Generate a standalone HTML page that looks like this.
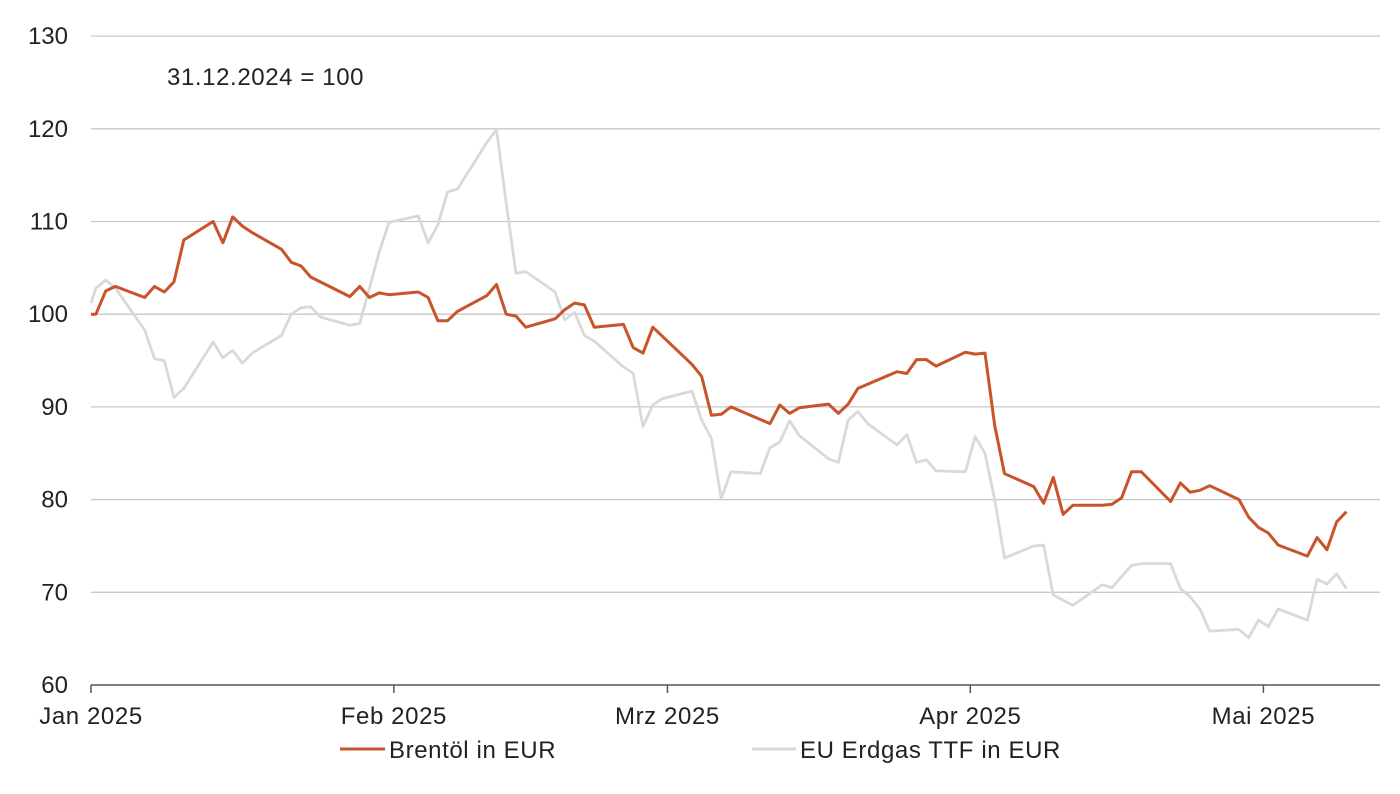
<!DOCTYPE html>
<html><head><meta charset="utf-8"><style>
body{margin:0;background:#fff;font-family:"Liberation Sans",Arial,sans-serif}
svg text{font-family:"Liberation Sans",Arial,sans-serif;fill:#222}
.lab{letter-spacing:0.6px}
</style></head><body>
<svg id="chart" width="1400" height="789" viewBox="0 0 1400 789" xmlns="http://www.w3.org/2000/svg">
<g id="grid"></g>
<g id="yaxis"></g>
<g id="xaxis"></g>
<g id="series"></g>
<text class="lab" x="167" y="85" font-size="24">31.12.2024 = 100</text>
<g>
<g><line x1="340" y1="749" x2="385" y2="749" stroke="#c9532a" stroke-width="3"/><text class="lab" x="389" y="758" font-size="24">Brentöl in EUR</text></g>
<g><line x1="752" y1="749" x2="796" y2="749" stroke="#d9d9d9" stroke-width="3"/><text class="lab" x="800" y="758" font-size="24">EU Erdgas TTF in EUR</text></g>
</g>
</svg>
<script>
const yTicks=[60,70,80,90,100,110,120,130];
const monthLabels=["Jan 2025","Feb 2025","Mrz 2025","Apr 2025","Mai 2025"];
const monthDays=[0,31,59,90,120];
const brentDays=[0,0.5,1.5,2.5,5.5,6.5,7.5,8.5,9.5,12.5,13.5,14.5,15.5,16.5,19.5,20.5,21.5,22.5,26.5,27.5,28.5,29.5,30.5,33.5,34.5,35.5,36.5,37.5,40.5,41.5,42.5,43.5,44.5,47.5,48.5,49.5,50.5,51.5,54.5,55.5,56.5,57.5,61.5,62.5,63.5,64.5,65.5,69.5,70.5,71.5,72.5,75.5,76.5,77.5,78.5,82.5,83.5,84.5,85.5,86.5,89.5,90.5,91.5,92.5,93.5,96.5,97.5,98.5,99.5,100.5,103.5,104.5,105.5,106.5,107.5,110.5,111.5,112.5,113.5,114.5,117.5,118.5,119.5,120.5,121.5,124.5,125.5,126.5,127.5,128.5];
const brentValues=[100,100,102.5,103,101.8,103,102.4,103.5,108,110,107.7,110.5,109.5,108.8,107,105.6,105.2,104,101.9,103,101.8,102.3,102.1,102.4,101.8,99.3,99.3,100.3,102,103.2,100,99.8,98.6,99.5,100.5,101.2,101,98.6,98.9,96.4,95.8,98.6,94.6,93.3,89.1,89.2,90,88.2,90.2,89.3,89.9,90.3,89.3,90.3,92,93.8,93.6,95.1,95.1,94.4,95.9,95.7,95.8,88,82.8,81.4,79.6,82.4,78.4,79.4,79.4,79.5,80.2,83,83,79.8,81.8,80.8,81,81.5,80,78.1,77,76.4,75.1,73.9,75.9,74.6,77.6,78.7];
const gasDays=[0,0.5,1.5,2.5,5.5,6.5,7.5,8.5,9.5,12.5,13.5,14.5,15.5,16.5,19.5,20.5,21.5,22.5,23.5,26.5,27.5,28.5,29.5,30.5,33.5,34.5,35.5,36.5,37.5,40.5,41.5,42.5,43.5,44.5,47.5,48.5,49.5,50.5,51.5,54.5,55.5,56.5,57.5,58.5,61.5,62.5,63.5,64.5,65.5,68.5,69.5,70.5,71.5,72.5,75.5,76.5,77.5,78.5,79.5,82.5,83.5,84.5,85.5,86.5,89.5,90.5,91.5,92.5,93.5,96.5,97.5,98.5,100.5,103.5,104.5,105.5,106.5,107.5,110.5,111.5,112.5,113.5,114.5,117.5,118.5,119.5,120.5,121.5,124.5,125.5,126.5,127.5,128.5];
const gasValues=[101.2,102.8,103.7,102.8,98.3,95.2,95,91,92,97,95.3,96.1,94.7,95.8,97.7,100,100.7,100.8,99.7,98.8,99,102.8,106.7,109.9,110.6,107.7,109.6,113.2,113.5,118.5,119.9,112,104.4,104.6,102.4,99.4,100.2,97.7,97.1,94.3,93.6,87.9,90.2,90.9,91.7,88.6,86.6,80.1,83,82.8,85.6,86.2,88.5,86.9,84.4,84,88.6,89.5,88.2,85.9,87,84,84.3,83.1,83,86.8,85,80,73.7,75,75.1,69.7,68.6,70.8,70.5,71.7,72.9,73.1,73.1,70.4,69.5,68.2,65.8,66,65.1,67,66.3,68.2,67,71.4,70.9,72,70.4];

const NS="http://www.w3.org/2000/svg";
const X=d=>91+d*9.77;
const Y=v=>685-(v-60)*9.27;
function mk(tag,attrs,parent){const e=document.createElementNS(NS,tag);for(const k in attrs)e.setAttribute(k,attrs[k]);parent.appendChild(e);return e;}
const grid=document.getElementById('grid'),ya=document.getElementById('yaxis'),xa=document.getElementById('xaxis'),se=document.getElementById('series');
yTicks.forEach(v=>{
  if(v>60){const l=mk('line',{x1:91,x2:1380,y1:Y(v),y2:Y(v),stroke:'#c8c8c8','stroke-width':1.3},grid);
  
  }
  const t=mk('text',{x:68,y:Y(v)+8,'text-anchor':'end','font-size':24},ya);t.textContent=v;
  
  
});
const ax=mk('line',{x1:91,x2:1380,y1:685,y2:685,stroke:'#555','stroke-width':1.5},xa);


monthDays.forEach((d,i)=>{
  const tk=mk('line',{x1:X(d),x2:X(d),y1:685,y2:693,stroke:'#555','stroke-width':1.5},xa);
  
  
  const t=mk('text',{x:X(d),y:724,'text-anchor':'middle','font-size':24,'class':'lab'},xa);t.textContent=monthLabels[i];
  
  
});
function pts(ds,vs){return ds.map((d,i)=>X(d).toFixed(1)+','+Y(vs[i]).toFixed(1)).join(' ');}
const g=mk('polyline',{points:pts(gasDays,gasValues),fill:'none',stroke:'#d9d9d9','stroke-width':2.8,'stroke-linejoin':'round'},se);


const b=mk('polyline',{points:pts(brentDays,brentValues),fill:'none',stroke:'#c9532a','stroke-width':3,'stroke-linejoin':'round'},se);


</script>
</body></html>
